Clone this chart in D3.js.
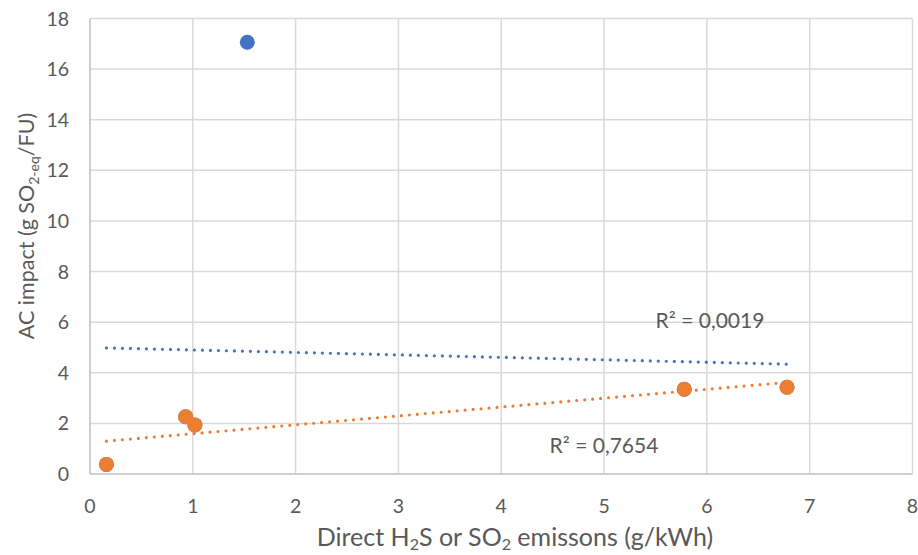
<!DOCTYPE html>
<html>
<head>
<meta charset="utf-8">
<script src="https://cdn.jsdelivr.net/npm/d3@7"></script>
<style>
  body { margin: 0; background: #fff; }
  text { font-family: Lato, "Open Sans", sans-serif; fill: #595959; }
</style>
</head>
<body>
<div id="chart"></div>
<script>
// series values
const blueX = [0.16, 0.93, 1.02, 1.53, 5.78, 6.78];
const blueY = [0.38, 2.26, 1.94, 17.06, 3.35, 3.43];
const orangeX = [0.16, 0.93, 1.02, 5.78, 6.78];
const orangeY = [0.38, 2.26, 1.94, 3.35, 3.43];

const xTicks = [0, 1, 2, 3, 4, 5, 6, 7, 8];
const yTicks = [0, 2, 4, 6, 8, 10, 12, 14, 16, 18];
const r2Labels = ["R² = 0,0019", "R² = 0,7654"];

const width = 918, height = 555;
const margin = { top: 18, right: 5, bottom: 81, left: 90 };

const svg = d3.select("#chart")
    .append("svg")
    .attr("width", width)
    .attr("height", height);

const x = d3.scaleLinear().domain([0, 8]).range([margin.left, width - margin.right - 0.5]);
const y = d3.scaleLinear().domain([0, 18]).range([height - margin.bottom, margin.top + 0.5]);

// gridlines
svg.append("g")
    .selectAll("line.v")
    .data(xTicks.slice(1))
    .join("line")
    .attr("x1", d => x(d)).attr("x2", d => x(d))
    .attr("y1", y(0)).attr("y2", y(18))
    .attr("stroke", "#d9d9d9")
    .attr("stroke-width", 1.5);

svg.append("g")
    .selectAll("line.h")
    .data(yTicks.slice(1))
    .join("line")
    .attr("x1", x(0)).attr("x2", x(8))
    .attr("y1", d => y(d)).attr("y2", d => y(d))
    .attr("stroke", "#d9d9d9")
    .attr("stroke-width", 1.5);

// axis lines
svg.append("line")
    .attr("x1", x(0)).attr("x2", x(8))
    .attr("y1", y(0)).attr("y2", y(0))
    .attr("stroke", "#bfbfbf").attr("stroke-width", 1.5);
svg.append("line")
    .attr("x1", x(0)).attr("x2", x(0))
    .attr("y1", y(0)).attr("y2", y(18))
    .attr("stroke", "#bfbfbf").attr("stroke-width", 1.5);

// tick labels
svg.append("g")
    .selectAll("text")
    .data(xTicks)
    .join("text")
    .attr("x", d => x(d))
    .attr("y", y(0) + 39)
    .attr("text-anchor", "middle")
    .style("font-size", "19.5px")
    .text(d => d);

svg.append("g")
    .selectAll("text")
    .data(yTicks)
    .join("text")
    .attr("x", x(0) - 21)
    .attr("y", d => y(d) + 7)
    .attr("text-anchor", "end")
    .style("font-size", "19.5px")
    .text(d => d);

// axis titles
const xt = svg.append("text")
    .attr("x", 515)
    .attr("y", 546)
    .attr("text-anchor", "middle")
    .style("font-size", "25px");
xt.append("tspan").text("Direct H");
xt.append("tspan").attr("dy", 4).style("font-size", "16px").text("2");
xt.append("tspan").attr("dy", -4).text("S or SO");
xt.append("tspan").attr("dy", 4).style("font-size", "16px").text("2");
xt.append("tspan").attr("dy", -4).text(" emissons (g/kWh)");

const yt = svg.append("text")
    .attr("transform", "translate(34,226) rotate(-90)")
    .attr("text-anchor", "middle")
    .style("font-size", "21.5px");
yt.append("tspan").text("AC impact (g SO");
yt.append("tspan").attr("dy", 5).style("font-size", "14px").text("2-eq");
yt.append("tspan").attr("dy", -5).text("/FU)");

// linear trend lines
function fit(xs, ys) {
    const mx = d3.mean(xs), my = d3.mean(ys);
    const sxy = d3.sum(xs, (v, i) => (v - mx) * (ys[i] - my));
    const sxx = d3.sum(xs, v => (v - mx) * (v - mx));
    const b = sxy / sxx;
    const a = my - b * mx;
    const [x0, x1] = d3.extent(xs);
    return [[x0, a + b * x0], [x1, a + b * x1]];
}

const line = d3.line().x(d => x(d[0])).y(d => y(d[1]));

[[blueX, blueY, "#4472c4"], [orangeX, orangeY, "#ed7d31"]].forEach(([xs, ys, c]) => {
    svg.append("path")
        .attr("d", line(fit(xs, ys)))
        .attr("fill", "none")
        .attr("stroke", c)
        .attr("stroke-width", 3.2)
        .attr("stroke-linecap", "round")
        .attr("stroke-dasharray", "0 8");
});

// points
svg.append("g")
    .selectAll("circle")
    .data(blueX.map((v, i) => [v, blueY[i]]))
    .join("circle")
    .attr("cx", d => x(d[0]))
    .attr("cy", d => y(d[1]))
    .attr("r", 7.5)
    .attr("fill", "#4472c4");

svg.append("g")
    .selectAll("circle")
    .data(orangeX.map((v, i) => [v, orangeY[i]]))
    .join("circle")
    .attr("cx", d => x(d[0]))
    .attr("cy", d => y(d[1]))
    .attr("r", 7.5)
    .attr("fill", "#ed7d31");

// R² labels
svg.append("text")
    .attr("x", 710).attr("y", 328)
    .attr("text-anchor", "middle")
    .style("font-size", "21px")
    .text(r2Labels[0]);
svg.append("text")
    .attr("x", 604).attr("y", 453)
    .attr("text-anchor", "middle")
    .style("font-size", "21px")
    .text(r2Labels[1]);
</script>
</body>
</html>
